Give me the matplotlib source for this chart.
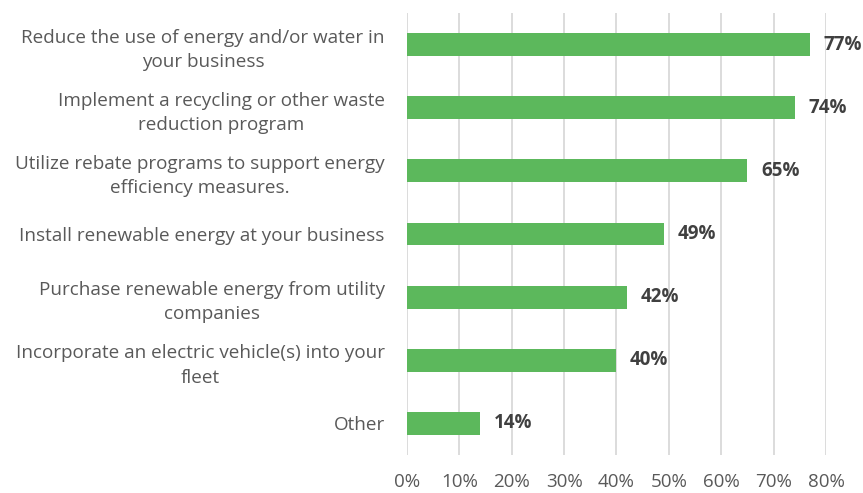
import matplotlib.pyplot as plt
from matplotlib.ticker import PercentFormatter

actions = ['Reduce the use of energy and/or water in\nyour business',
           'Implement a recycling or other waste\nreduction program',
           'Utilize rebate programs to support energy\nefficiency measures.',
           'Install renewable energy at your business',
           'Purchase renewable energy from utility\ncompanies',
           'Incorporate an electric vehicle(s) into your\nfleet',
           'Other']
shares = [77, 74, 65, 49, 42, 40, 14]
xticks = [0, 10, 20, 30, 40, 50, 60, 70, 80]

plt.rcParams['font.family'] = ['Open Sans', 'DejaVu Sans']

fig = plt.figure(figsize=(8.63, 4.93), dpi=100)
ax = fig.add_axes([0.4716, 0.0771, 0.4855, 0.8965])

pos = list(range(len(actions)))
ax.barh(pos, shares, height=0.36, color='#5cb85c', zorder=3)
for p, v in zip(pos, shares):
    ax.text(v + 2.6, p, f'{v}%', va='center', ha='left', fontsize=13.5,
            fontweight='bold', color='#404040')

ax.set_ylim(len(actions) - 0.5, -0.5)
ax.set_xlim(0, 80)
ax.set_xticks(xticks)
ax.xaxis.set_major_formatter(PercentFormatter(decimals=0))
ax.grid(axis='x', color='#d9d9d9', lw=1.3, zorder=0)
ax.set_yticks(pos)
ax.set_yticklabels(actions, multialignment='center', linespacing=1.45)
for s in ax.spines.values():
    s.set_visible(False)
ax.tick_params(axis='y', length=0, labelsize=13.6, colors='#595959', pad=16)
ax.tick_params(axis='x', length=0, labelsize=13.5, colors='#595959', pad=13)

fig.savefig('out.png', dpi=100)
